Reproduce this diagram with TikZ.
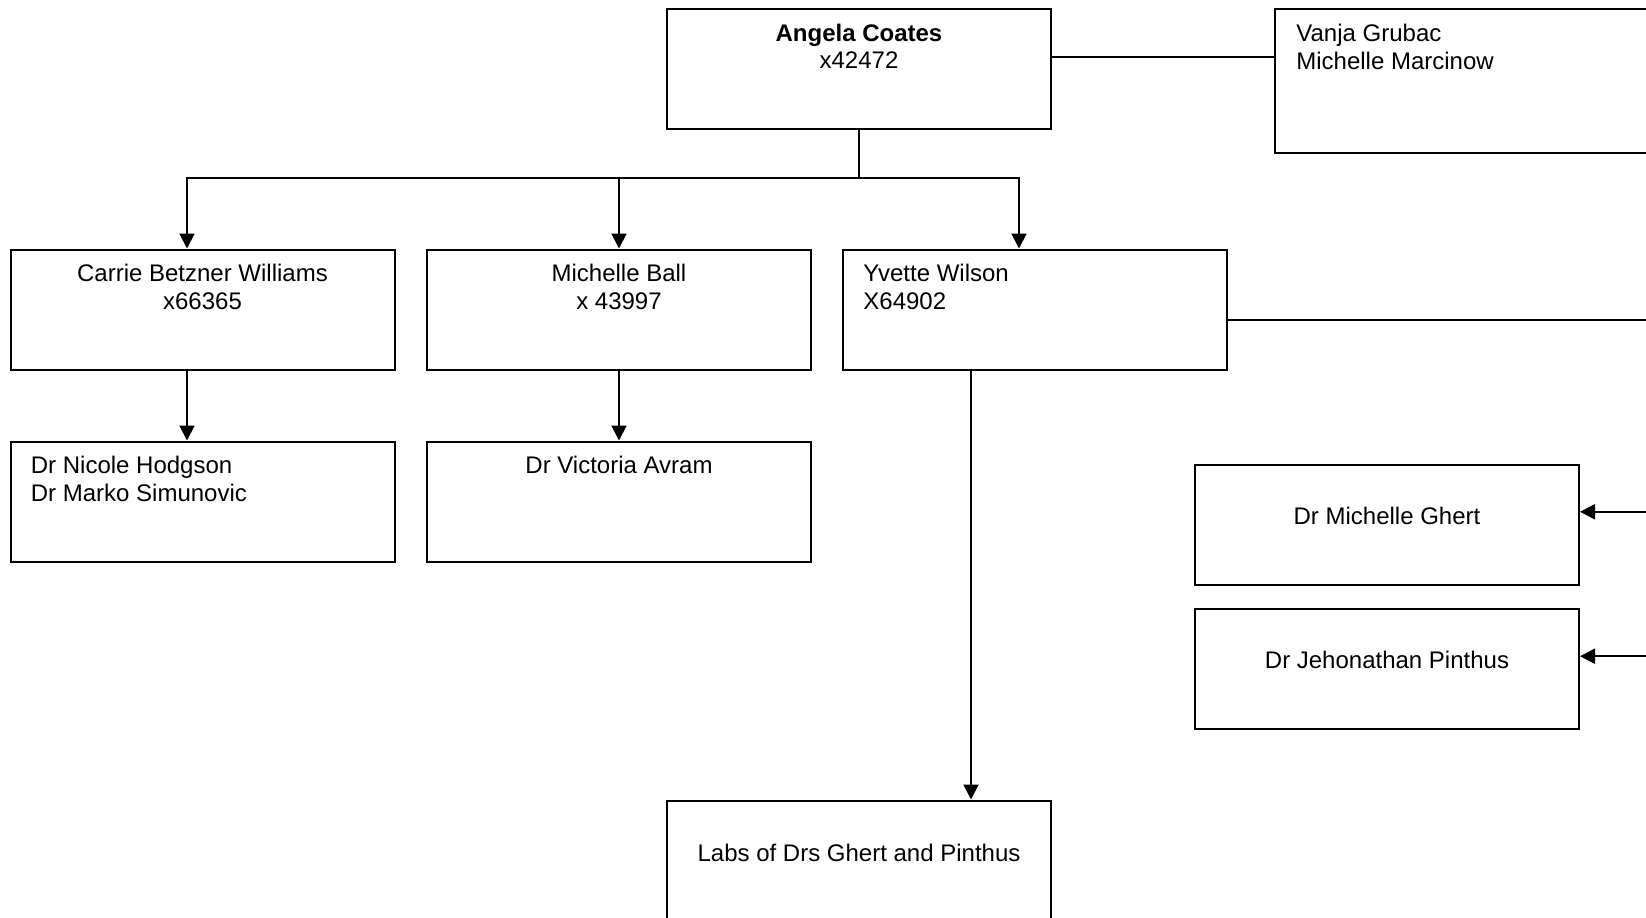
\documentclass[tikz,border=0pt]{standalone}
\usepackage{fontspec}
\setmainfont{Liberation Sans}
\usetikzlibrary{arrows.meta}
\begin{document}
\begin{tikzpicture}[x=0.5pt,y=-0.5pt,
  box/.style={draw, line width=1pt, minimum width=192pt, minimum height=60pt, inner sep=0pt, anchor=north west},
  ctxt/.style={font=\fontsize{12}{13.8}\selectfont, inner sep=0pt, align=center, anchor=north},
  ltxt/.style={font=\fontsize{12}{13.8}\selectfont, inner sep=0pt, align=left, anchor=north west},
  conn/.style={line width=1pt},
  arr/.style={conn, -{Triangle[length=7.5pt,width=7.5pt]}}]
\useasboundingbox (1,0.5) rectangle (1647,917.5);
\clip (1,0.5) rectangle (1647,917.5);

% boxes
\node[box] (angela) at (667,8.3) {};
\node[box, minimum height=72pt] (vanja) at (1275,8.3) {};
\node[box] (carrie) at (10.5,249) {};
\node[box] (ball) at (427,249) {};
\node[box] (yvette) at (843,249) {};
\node[box] (nicole) at (10.5,441) {};
\node[box] (victoria) at (427,441) {};
\node[box] (ghert) at (1195,464.3) {};
\node[box] (pinthus) at (1195,608.7) {};
\node[box] (labs) at (667,800) {};

% texts
\node[ctxt] (angelaT) at ([yshift=-7.8pt]angela.north) {\textbf{Angela Coates}\\x42472};
\node[ltxt] (vanjaT) at ([xshift=11pt,yshift=-8.2pt]vanja.north west) {Vanja Grubac\\Michelle Marcinow};
\node[ctxt] (carrieT) at ([yshift=-7.8pt]carrie.north) {Carrie Betzner Williams\\x66365};
\node[ctxt] (ballT) at ([yshift=-7.8pt]ball.north) {Michelle Ball\\x 43997};
\node[ltxt] (yvetteT) at ([xshift=10.5pt,yshift=-7.8pt]yvette.north west) {Yvette Wilson\\X64902};
\node[ltxt] (nicoleT) at ([xshift=10.5pt,yshift=-7.8pt]nicole.north west) {Dr Nicole Hodgson\\Dr Marko Simunovic};
\node[ctxt] (victoriaT) at ([yshift=-7.8pt]victoria.north) {Dr Victoria Avram};
\node[ctxt] (ghertT) at ([yshift=-21.3pt]ghert.north) {Dr Michelle Ghert};
\node[ctxt] (pinthusT) at ([yshift=-21.3pt]pinthus.north) {Dr Jehonathan Pinthus};
\node[ctxt] (labsT) at ([yshift=-22.1pt]labs.north) {Labs of Drs Ghert and Pinthus};

% helper points on the boxes
\coordinate (carrieIn) at ([xshift=-7.75pt]carrie.north);
\coordinate (carrieOut) at ([xshift=-7.75pt]carrie.south);
\coordinate (nicoleIn) at ([xshift=-7.75pt]nicole.north);
\coordinate (yvetteIn) at ([xshift=-8pt]yvette.north);
\coordinate (yvetteOut) at ([xshift=-32pt]yvette.south);
\coordinate (angelaOut) at ([yshift=5.7pt]angela.east);

% free ends at the right edge
\coordinate (e1) at (1650,320.7);
\coordinate (e2) at (1650,512.3);
\coordinate (e3) at (1650,656.7);

% connectors
\draw[conn] (angelaOut) -- (angelaOut -| vanja.west);
\draw[conn] (angela.south) -- ++(0,47.7) coordinate (hub);
\draw[arr] (hub) -| (carrieIn);
\draw[arr] (hub) -| (ball.north);
\draw[arr] (hub) -| (yvetteIn);
\draw[arr] (carrieOut) -- (nicoleIn);
\draw[arr] (ball.south) -- (victoria.north);
\draw[arr] (yvetteOut) -- (yvetteOut |- labs.north);
\draw[conn] (yvette.east |- e1) -- (e1);
\draw[arr] (e2) -- (ghert.east |- e2);
\draw[arr] (e3) -- (pinthus.east |- e3);
\end{tikzpicture}
\end{document}
